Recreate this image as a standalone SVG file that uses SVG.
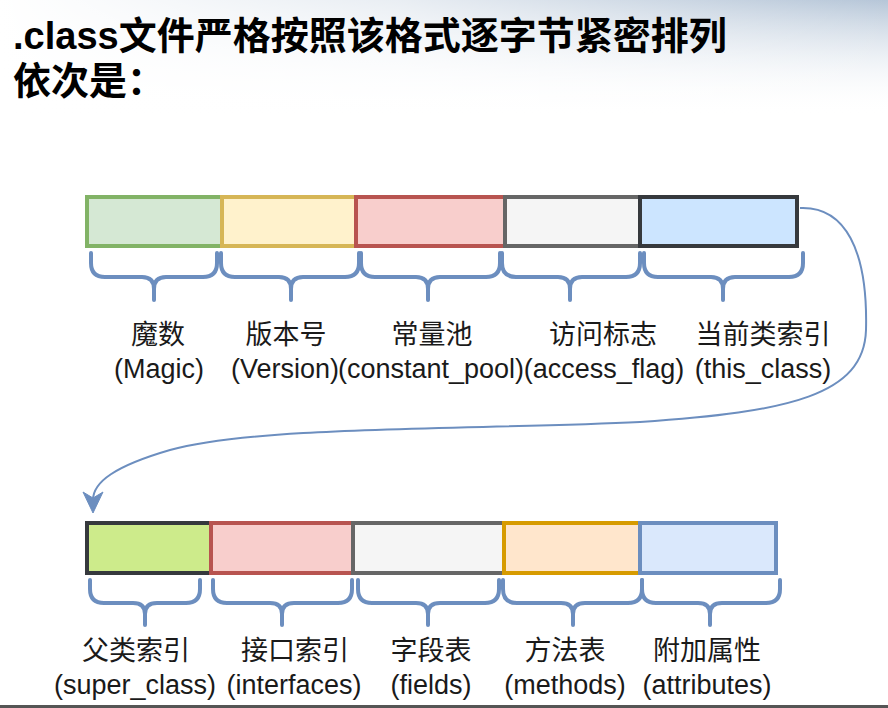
<svg xmlns="http://www.w3.org/2000/svg" width="888" height="708" viewBox="0 0 888 708">
<defs>
<linearGradient id="bg" x1="0" y1="0" x2="0" y2="1">
<stop offset="0" stop-color="#b6c6d8" stop-opacity="1"/>
<stop offset="1" stop-color="#ffffff" stop-opacity="0"/>
</linearGradient>
<linearGradient id="bgx" x1="0" y1="0" x2="1" y2="0">
<stop offset="0" stop-color="#fff" stop-opacity="1"/>
<stop offset="0.45" stop-color="#fff" stop-opacity="0.7"/>
<stop offset="1" stop-color="#fff" stop-opacity="0"/>
</linearGradient>
<style>
.box{stroke-width:4}
.brace{fill:none;stroke:#6c8ebf;stroke-width:4;stroke-linecap:round;stroke-linejoin:round}
.lbl{font-family:"Liberation Sans","Noto Sans CJK SC",sans-serif;font-size:27px;fill:#1a1a1a;text-anchor:middle}
.title{font-family:"Liberation Sans","Noto Sans CJK SC",sans-serif;font-size:38px;font-weight:bold;fill:#000}
.conn{fill:none;stroke:#6c8ebf;stroke-width:2}
</style>
</defs>
<rect width="888" height="708" fill="#fff"/>
<rect width="888" height="115" fill="url(#bg)"/>
<rect width="888" height="115" fill="url(#bgx)"/>
<rect x="0" y="705" width="888" height="3" fill="#555"/>

<g id="title">
<text class="title" x="13" y="49">.class文件严格按照该格式逐字节紧密排列</text>
<text class="title" x="13" y="94">依次是：</text>
</g>

<g id="magic">
<rect class="box" x="87" y="197" width="135" height="49" fill="#d5e8d4" stroke="#82b366"/>
<path class="brace" d="M91 253 V263 Q91 277 105 277 H142 Q154 277 154 289 V300 M217 253 V263 Q217 277 203 277 H166 Q154 277 154 289"/>
<text class="lbl" x="158" y="344">魔数</text>
<text class="lbl" x="159" y="378">(Magic)</text>
</g>
<g id="version">
<rect class="box" x="222" y="197" width="134" height="49" fill="#fff2cc" stroke="#d6b656"/>
<path class="brace" d="M221 253 V263 Q221 277 235 277 H279 Q291 277 291 289 V300 M359 253 V263 Q359 277 345 277 H303 Q291 277 291 289"/>
<text class="lbl" x="286" y="344">版本号</text>
<text class="lbl" x="285" y="378">(Version)</text>
</g>
<g id="constant_pool">
<rect class="box" x="356" y="197" width="149" height="49" fill="#f8cecc" stroke="#b85450"/>
<path class="brace" d="M361 253 V263 Q361 277 375 277 H416 Q428 277 428 289 V300 M500 253 V263 Q500 277 486 277 H440 Q428 277 428 289"/>
<text class="lbl" x="432" y="344">常量池</text>
<text class="lbl" x="431" y="378">(constant_pool)</text>
</g>
<g id="access_flag">
<rect class="box" x="505" y="197" width="135" height="49" fill="#f5f5f5" stroke="#666666"/>
<path class="brace" d="M502 253 V263 Q502 277 516 277 H558 Q570 277 570 289 V300 M640 253 V263 Q640 277 626 277 H582 Q570 277 570 289"/>
<text class="lbl" x="603" y="344">访问标志</text>
<text class="lbl" x="604" y="378">(access_flag)</text>
</g>
<g id="this_class">
<rect class="box" x="640" y="197" width="157" height="49" fill="#cce5ff" stroke="#36393d"/>
<path class="brace" d="M644 253 V263 Q644 277 658 277 H711 Q723 277 723 289 V300 M803 253 V263 Q803 277 789 277 H735 Q723 277 723 289"/>
<text class="lbl" x="763" y="344">当前类索引</text>
<text class="lbl" x="763" y="378">(this_class)</text>
</g>

<g id="super_class">
<rect class="box" x="87" y="523" width="124" height="50" fill="#cdeb8b" stroke="#36393d"/>
<path class="brace" d="M90 580 V589 Q90 603 104 603 H133 Q145 603 145 614 V625 M200 580 V589 Q200 603 186 603 H157 Q145 603 145 614"/>
<text class="lbl" x="136" y="660">父类索引</text>
<text class="lbl" x="135" y="694">(super_class)</text>
</g>
<g id="interfaces">
<rect class="box" x="211" y="523" width="142" height="50" fill="#f8cecc" stroke="#b85450"/>
<path class="brace" d="M213 580 V589 Q213 603 227 603 H270 Q282 603 282 614 V625 M352 580 V589 Q352 603 338 603 H294 Q282 603 282 614"/>
<text class="lbl" x="295" y="660">接口索引</text>
<text class="lbl" x="294" y="694">(interfaces)</text>
</g>
<g id="fields">
<rect class="box" x="353" y="523" width="151" height="50" fill="#f5f5f5" stroke="#666666"/>
<path class="brace" d="M358 580 V589 Q358 603 372 603 H416 Q428 603 428 614 V625 M499 580 V589 Q499 603 485 603 H440 Q428 603 428 614"/>
<text class="lbl" x="431" y="660">字段表</text>
<text class="lbl" x="431" y="694">(fields)</text>
</g>
<g id="methods">
<rect class="box" x="504" y="523" width="136" height="50" fill="#ffe6cc" stroke="#d79b00"/>
<path class="brace" d="M503 580 V589 Q503 603 517 603 H561 Q573 603 573 614 V625 M642 580 V589 Q642 603 628 603 H585 Q573 603 573 614"/>
<text class="lbl" x="565" y="660">方法表</text>
<text class="lbl" x="565" y="694">(methods)</text>
</g>
<g id="attributes">
<rect class="box" x="640" y="523" width="136" height="50" fill="#dae8fc" stroke="#6c8ebf"/>
<path class="brace" d="M642 580 V589 Q642 603 656 603 H698 Q710 603 710 614 V625 M780 580 V589 Q780 603 766 603 H722 Q710 603 710 614"/>
<text class="lbl" x="707" y="660">附加属性</text>
<text class="lbl" x="707" y="694">(attributes)</text>
</g>

<g id="connectors">
<path class="conn" d="M800 208 C845 206 868 250 866 330 C864 395 790 412 640 422 C480 430 260 425 170 450 C115 466 93 482 93 500"/>
<path d="M93 513 L83 492 L93 498 L103 492 Z" fill="#6c8ebf" stroke="#6c8ebf" stroke-width="1"/>
</g>
</svg>
